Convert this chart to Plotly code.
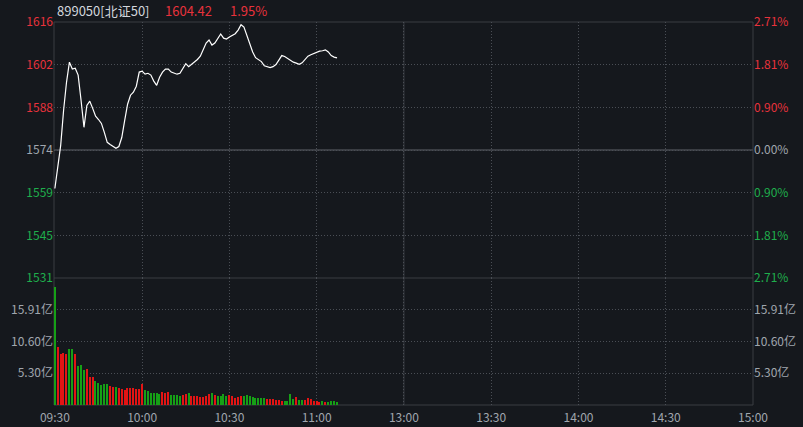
import plotly.graph_objects as go

# ---------------- data ----------------
prev_close = 1573.74
minute_idx = list(range(98))  # minutes after 09:30

price = [1560.9, 1568.6, 1575.3, 1587.0, 1596.3, 1603.0, 1600.7, 1601.0, 1598.7, 1590.3,
         1581.3, 1588.6, 1590.0, 1587.6, 1585.0, 1583.9, 1582.6, 1579.6, 1576.3, 1575.6,
         1574.9, 1574.3, 1574.9, 1577.9, 1583.6, 1589.0, 1592.0, 1593.0, 1595.0, 1599.7,
         1600.0, 1599.0, 1599.3, 1598.7, 1596.7, 1595.3, 1598.0, 1599.7, 1600.7, 1600.7,
         1599.7, 1599.3, 1599.0, 1599.3, 1601.0, 1602.5, 1601.5, 1602.2, 1603.0, 1603.9,
         1605.0, 1607.0, 1609.4, 1610.4, 1608.7, 1609.4, 1611.0, 1612.4, 1611.0, 1610.7,
         1611.4, 1612.0, 1612.5, 1613.7, 1615.5, 1614.7, 1612.0, 1609.0, 1606.4, 1604.5,
         1603.7, 1603.2, 1601.8, 1601.4, 1601.2, 1601.5, 1602.2, 1603.7, 1605.2, 1604.9,
         1604.2, 1603.5, 1603.0, 1602.7, 1602.3, 1602.8, 1603.9, 1605.0, 1605.5, 1605.9,
         1606.4, 1606.7, 1606.8, 1607.1, 1606.4, 1605.2, 1604.7, 1604.42]

volume = [19.7, 9.74, 8.52, 8.73, 8.52, 9.35, 9.35, 8.52, 6.51, 6.73,
          5.85, 5.96, 4.63, 4.73, 4.01, 3.72, 3.34, 3.46, 3.51, 3.17,
          3.06, 3.06, 2.79, 2.62, 2.51, 2.79, 2.89, 2.79, 2.62, 2.67,
          3.51, 2.51, 2.34, 2.05, 1.95, 1.95, 1.84, 2.17, 1.95, 2.22,
          1.67, 1.67, 1.62, 1.50, 1.62, 1.79, 2.05,
          1.50, 1.50, 1.50, 1.39, 1.28, 1.55, 1.89, 2.0, 1.67, 1.55,
          1.55, 1.84, 1.55, 1.67, 1.50, 1.22, 1.39, 1.55, 1.55, 1.67,
          1.55, 1.34, 1.22, 1.22, 1.22, 1.12, 1.0, 1.0, 1.0, 0.89,
          0.84, 0.67, 0.67, 0.67, 1.84, 1.0, 1.28, 0.84, 0.84, 0.84,
          1.12, 1.0, 0.67, 0.67, 0.56, 0.67, 0.45, 0.56, 0.67, 0.67, 0.5]

# 'u' = up (red), 'd' = down (green)
vol_dir = list("duuuudduddduuudddddu" "udu" "uuuuuuuu" "dddddd" "uuu" "dddd" "uud"
               "uuuuuuu" "d" "u" "dddd" "uuuuu" "dddddddd" "uuuuuu" "dddd" "u" "dd"
               "uuuuuu" "d" "u" "dddd")

time_ticks = [0, 30, 60, 90, 120, 150, 180, 210, 240]
time_labels = ["09:30", "10:00", "10:30", "11:00", "13:00", "13:30", "14:00", "14:30", "15:00"]

price_labels = ["1531", "1545", "1559", "1574", "1588", "1602", "1616"]
pct_labels = ["2.71%", "1.81%", "0.90%", "0.00%", "0.90%", "1.81%", "2.71%"]
vol_ticks = [5.303, 10.606, 15.91]
vol_labels = ["5.30亿", "10.60亿", "15.91亿"]
max_pct = 0.0271
vol_max = 21.21

code_name = "899050[北证50]"

# ---------------- style ----------------
BG = "#15181d"
FRAME = "#3a3d43"
GRID = "#4a4e55"
RED = "#e8323c"
GREEN = "#1fae4c"
GRAY = "#a0a6ae"
BAR_RED = "#e41414"
BAR_GREEN = "#16a016"
FONT = "Noto Sans CJK SC"

lo = prev_close * (1 - max_pct)
hi = prev_close * (1 + max_pct)
price_ticks = [prev_close * (1 + k * max_pct / 3) for k in range(-3, 4)]
label_colors = [GREEN, GREEN, GREEN, GRAY, RED, RED, RED]
left_text = [f"<span style='color:{c}'>{t}</span>" for t, c in zip(price_labels, label_colors)]
right_text = [f"<span style='color:{c}'>{t}</span>" for t, c in zip(pct_labels, label_colors)]

split = 127 / 383  # volume panel share

bar_colors = [BAR_RED if d == "u" else BAR_GREEN for d in vol_dir]
n = len(volume)

fig = go.Figure()
fig.add_trace(go.Scatter(x=minute_idx, y=price, mode="lines",
                         line=dict(color="#ffffff", width=1.2), xaxis="x", yaxis="y",
                         hoverinfo="skip"))
fig.add_trace(go.Scatter(x=minute_idx, y=price, mode="lines", opacity=0,
                         line=dict(width=0), xaxis="x", yaxis="y3", hoverinfo="skip"))
fig.add_trace(go.Bar(x=minute_idx[:n], y=volume, marker=dict(color=bar_colors[:n], line=dict(width=0)),
                     width=0.42, xaxis="x", yaxis="y2", hoverinfo="skip"))
fig.add_trace(go.Bar(x=minute_idx[:n], y=volume, opacity=0, width=0.42,
                     xaxis="x", yaxis="y4", hoverinfo="skip"))

tickfont = dict(family=FONT, size=12, color=GRAY)
dotgrid = dict(showgrid=True, gridcolor=GRID, griddash="1px,2px", gridwidth=1, zeroline=False)

fig.update_layout(
    width=803, height=427,
    margin=dict(l=54, r=50, t=22, b=22, autoexpand=False),
    paper_bgcolor=BG, plot_bgcolor=BG,
    showlegend=False, bargap=0, barmode="overlay",
    xaxis=dict(domain=[0, 1], range=[-0.3, 240], anchor="y2", automargin=False,
               tickvals=time_ticks, ticktext=time_labels, tickfont=tickfont,
               ticks="", showline=False, ticklabelstandoff=4, **dotgrid),
    yaxis=dict(domain=[split, 1], range=[lo, hi], anchor="x", side="left", automargin=False,
               tickvals=price_ticks, ticktext=left_text, tickfont=tickfont,
               ticks="", showline=False, **dotgrid),
    yaxis3=dict(overlaying="y", range=[lo, hi], anchor="x", side="right", automargin=False,
                tickvals=price_ticks, ticktext=right_text, tickfont=tickfont,
                ticks="", showline=False, showgrid=False, zeroline=False),
    yaxis2=dict(domain=[0, split], range=[0, vol_max], anchor="x", side="left", automargin=False,
                tickvals=vol_ticks, ticktext=vol_labels, tickfont=tickfont,
                ticks="", showline=False, **dotgrid),
    yaxis4=dict(overlaying="y2", range=[0, vol_max], anchor="x", side="right", automargin=False,
                tickvals=vol_ticks, ticktext=vol_labels, tickfont=tickfont,
                ticks="", showline=False, showgrid=False, zeroline=False),
    shapes=[
        dict(type="rect", xref="paper", yref="paper", x0=0, x1=1, y0=0, y1=1,
             line=dict(color=FRAME, width=1), layer="below"),
        dict(type="line", xref="paper", yref="paper", x0=0, x1=1, y0=split, y1=split,
             line=dict(color=FRAME, width=1), layer="below"),
        dict(type="line", xref="paper", yref="y", x0=0, x1=1, y0=prev_close, y1=prev_close,
             line=dict(color=FRAME, width=2), layer="below"),
        dict(type="line", xref="x", yref="paper", x0=120, x1=120, y0=0, y1=1,
             line=dict(color=FRAME, width=1), layer="below"),
    ],
)

last = price[-1]
pct = (last / prev_close - 1) * 100
hy = (383 + 22 - 10) / 383
fig.add_annotation(xref="paper", yref="paper", x=(55 - 54) / 699, y=hy, xanchor="left",
                   yanchor="middle", text=code_name, showarrow=False,
                   font=dict(family=FONT, size=13, color="#d2d6dc"))
fig.add_annotation(xref="paper", yref="paper", x=(163 - 54) / 699, y=hy, xanchor="left",
                   yanchor="middle", text=f"{last:.2f}", showarrow=False,
                   font=dict(family=FONT, size=13, color=RED))
fig.add_annotation(xref="paper", yref="paper", x=(228 - 54) / 699, y=hy, xanchor="left",
                   yanchor="middle", text=f"{pct:.2f}%", showarrow=False,
                   font=dict(family=FONT, size=13, color=RED))

fig.write_html("out.html", config={"displayModeBar": False},
               post_script="document.body.style.margin='0';document.body.style.background='%s';" % BG)
